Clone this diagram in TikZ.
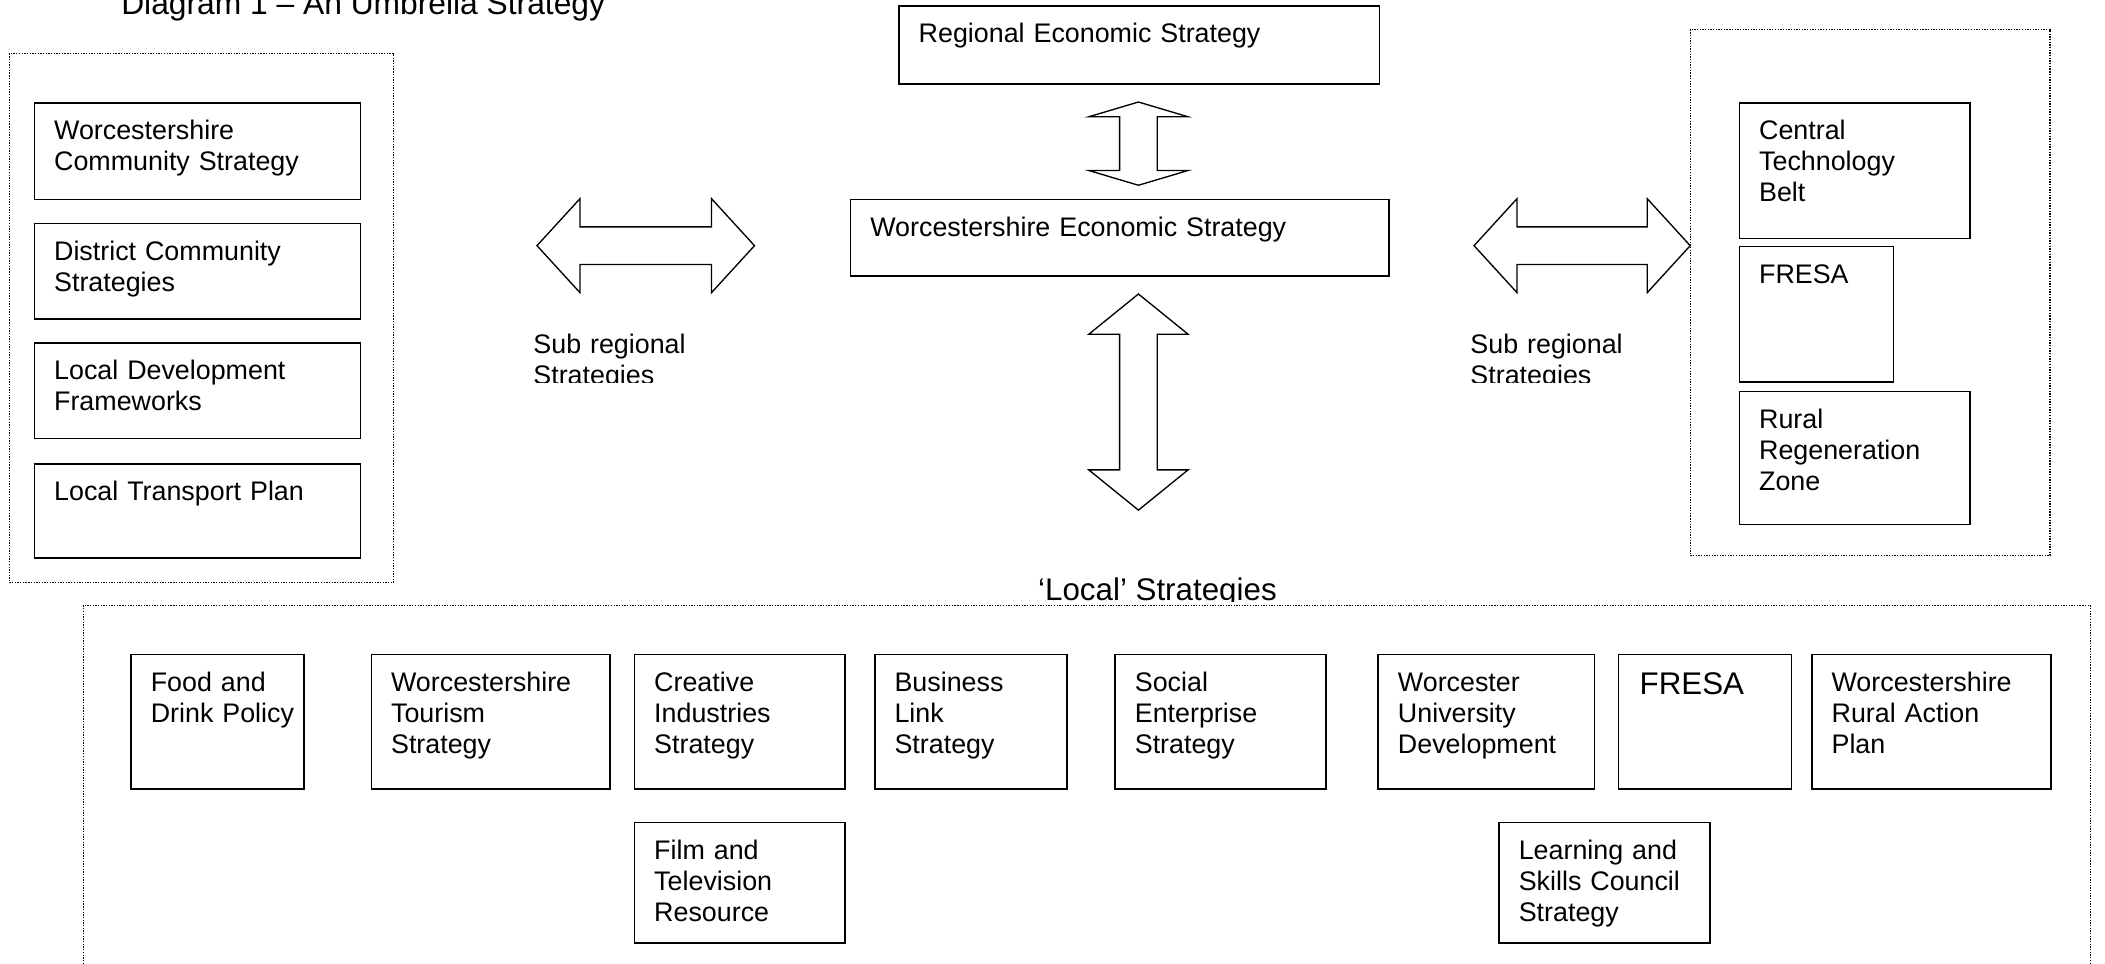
\documentclass[tikz,border=0pt]{standalone}
\usepackage{fontspec}
\setmainfont{Liberation Sans}
\usetikzlibrary{calc}
\tikzset{
  x=0.6pt, y=-0.6pt,
  box/.style={draw, line width=0.7pt, inner sep=0pt, anchor=north west},
  txt/.style={font=\fontsize{12}{13.85}\selectfont, align=left, text width=300pt, inner sep=0pt, anchor=base west},
  bigtxt/.style={font=\fontsize{14}{16}\selectfont, inner sep=0pt, anchor=base west},
  dotbox/.style={draw, line width=0.5pt, dash pattern=on 0.6pt off 0.6pt},
  blockarrow/.style={draw, line width=0.6pt, fill=white, line join=miter},
}
\newcommand{\strbox}[6]{%
  \node[box, minimum width={(#4-(#2))*0.6pt}, minimum height={(#5-(#3))*0.6pt}] (#1) at (#2,#3) {};
  \node[txt] (#1-t) at ($(#1.north west)+(15,28)$) {#6};}
\newcommand{\vdarr}[4]{% cx, ytop, ybottom, head length
  \draw[blockarrow] (#1,#2) -- (#1+37,#2+#4) -- (#1+14,#2+#4) -- (#1+14,#3-#4) -- (#1+37,#3-#4)
    -- (#1,#3) -- (#1-37,#3-#4) -- (#1-14,#3-#4) -- (#1-14,#2+#4) -- (#1-37,#2+#4) -- cycle;}
\newcommand{\hdarr}[4]{% cy, xleft, xright, head length
  \draw[blockarrow] (#2,#1) -- (#2+#4,#1-35) -- (#2+#4,#1-14) -- (#3-#4,#1-14) -- (#3-#4,#1-35)
    -- (#3,#1) -- (#3-#4,#1+35) -- (#3-#4,#1+14) -- (#2+#4,#1+14) -- (#2+#4,#1+35) -- cycle;}
\begin{document}
\begin{tikzpicture}
\useasboundingbox (0,0) rectangle (1568,718);

% title
\node[bigtxt, font=\fontsize{14.2}{16}\selectfont] (title) at (90,11) {Diagram 1 – An Umbrella Strategy};

% left group
\draw[dotbox] (7,40) rectangle (293,434);
\strbox{wcs}{25}{76}{268}{148}{Worcestershire\\Community Strategy}
\strbox{dcs}{25}{166}{268}{237}{District Community\\Strategies}
\strbox{ldf}{25}{255}{268}{326}{Local Development\\Frameworks}
\strbox{ltp}{25}{345}{268}{415}{Local Transport Plan}

% centre
\strbox{res}{669}{4}{1027}{62}{Regional Economic Strategy}
\strbox{wes}{633}{148}{1034}{205}{Worcestershire Economic Strategy}
\vdarr{848}{76}{138}{11}
\vdarr{848}{219}{380}{30}
\hdarr{183}{400}{562}{32}
\hdarr{183}{1098}{1259}{32}

% sub regional labels
\begin{scope}
  \clip (390,240) rectangle (540,285);
  \node[txt] (subl) at (397,263) {Sub regional\\Strategies};
\end{scope}
\begin{scope}
  \clip (1088,240) rectangle (1240,285);
  \node[txt] (subr) at (1095,263) {Sub regional\\Strategies};
\end{scope}

% right group
\draw[dotbox] (1259,22) rectangle (1527,414);
\strbox{ctb}{1295}{76}{1467}{177}{Central\\Technology\\Belt}
\strbox{fresaA}{1295}{183}{1410}{284}{FRESA}
\strbox{rrz}{1295}{291}{1467}{390}{Rural\\Regeneration\\Zone}

% local strategies
\begin{scope}
  \clip (760,420) rectangle (960,448);
  \node[bigtxt] (local) at (773,447) {‘Local’ Strategies};
\end{scope}
\draw[dotbox] (62,730) -- (62,451) -- (1557,451) -- (1557,730);

\strbox{fdp}{97}{487}{226}{587}{Food and\\Drink Policy}
\strbox{wts}{276}{487}{454}{587}{Worcestershire\\Tourism\\Strategy}
\strbox{cis}{472}{487}{629}{587}{Creative\\Industries\\Strategy}
\strbox{bls}{651}{487}{794}{587}{Business\\Link\\Strategy}
\strbox{ses}{830}{487}{987}{587}{Social\\Enterprise\\Strategy}
\strbox{wud}{1026}{487}{1187}{587}{Worcester\\University\\Development}
\node[box, minimum width=129*0.6pt, minimum height=100*0.6pt] (fresaB) at (1205,487) {};
\node[bigtxt] (fresaB-t) at ($(fresaB.north west)+(16,30)$) {FRESA};
\strbox{wrap}{1349}{487}{1527}{587}{Worcestershire\\Rural Action\\Plan}
\strbox{ftr}{472}{612}{629}{702}{Film and\\Television\\Resource}
\strbox{lsc}{1116}{612}{1273}{702}{Learning and\\Skills Council\\Strategy}
\end{tikzpicture}
\end{document}
